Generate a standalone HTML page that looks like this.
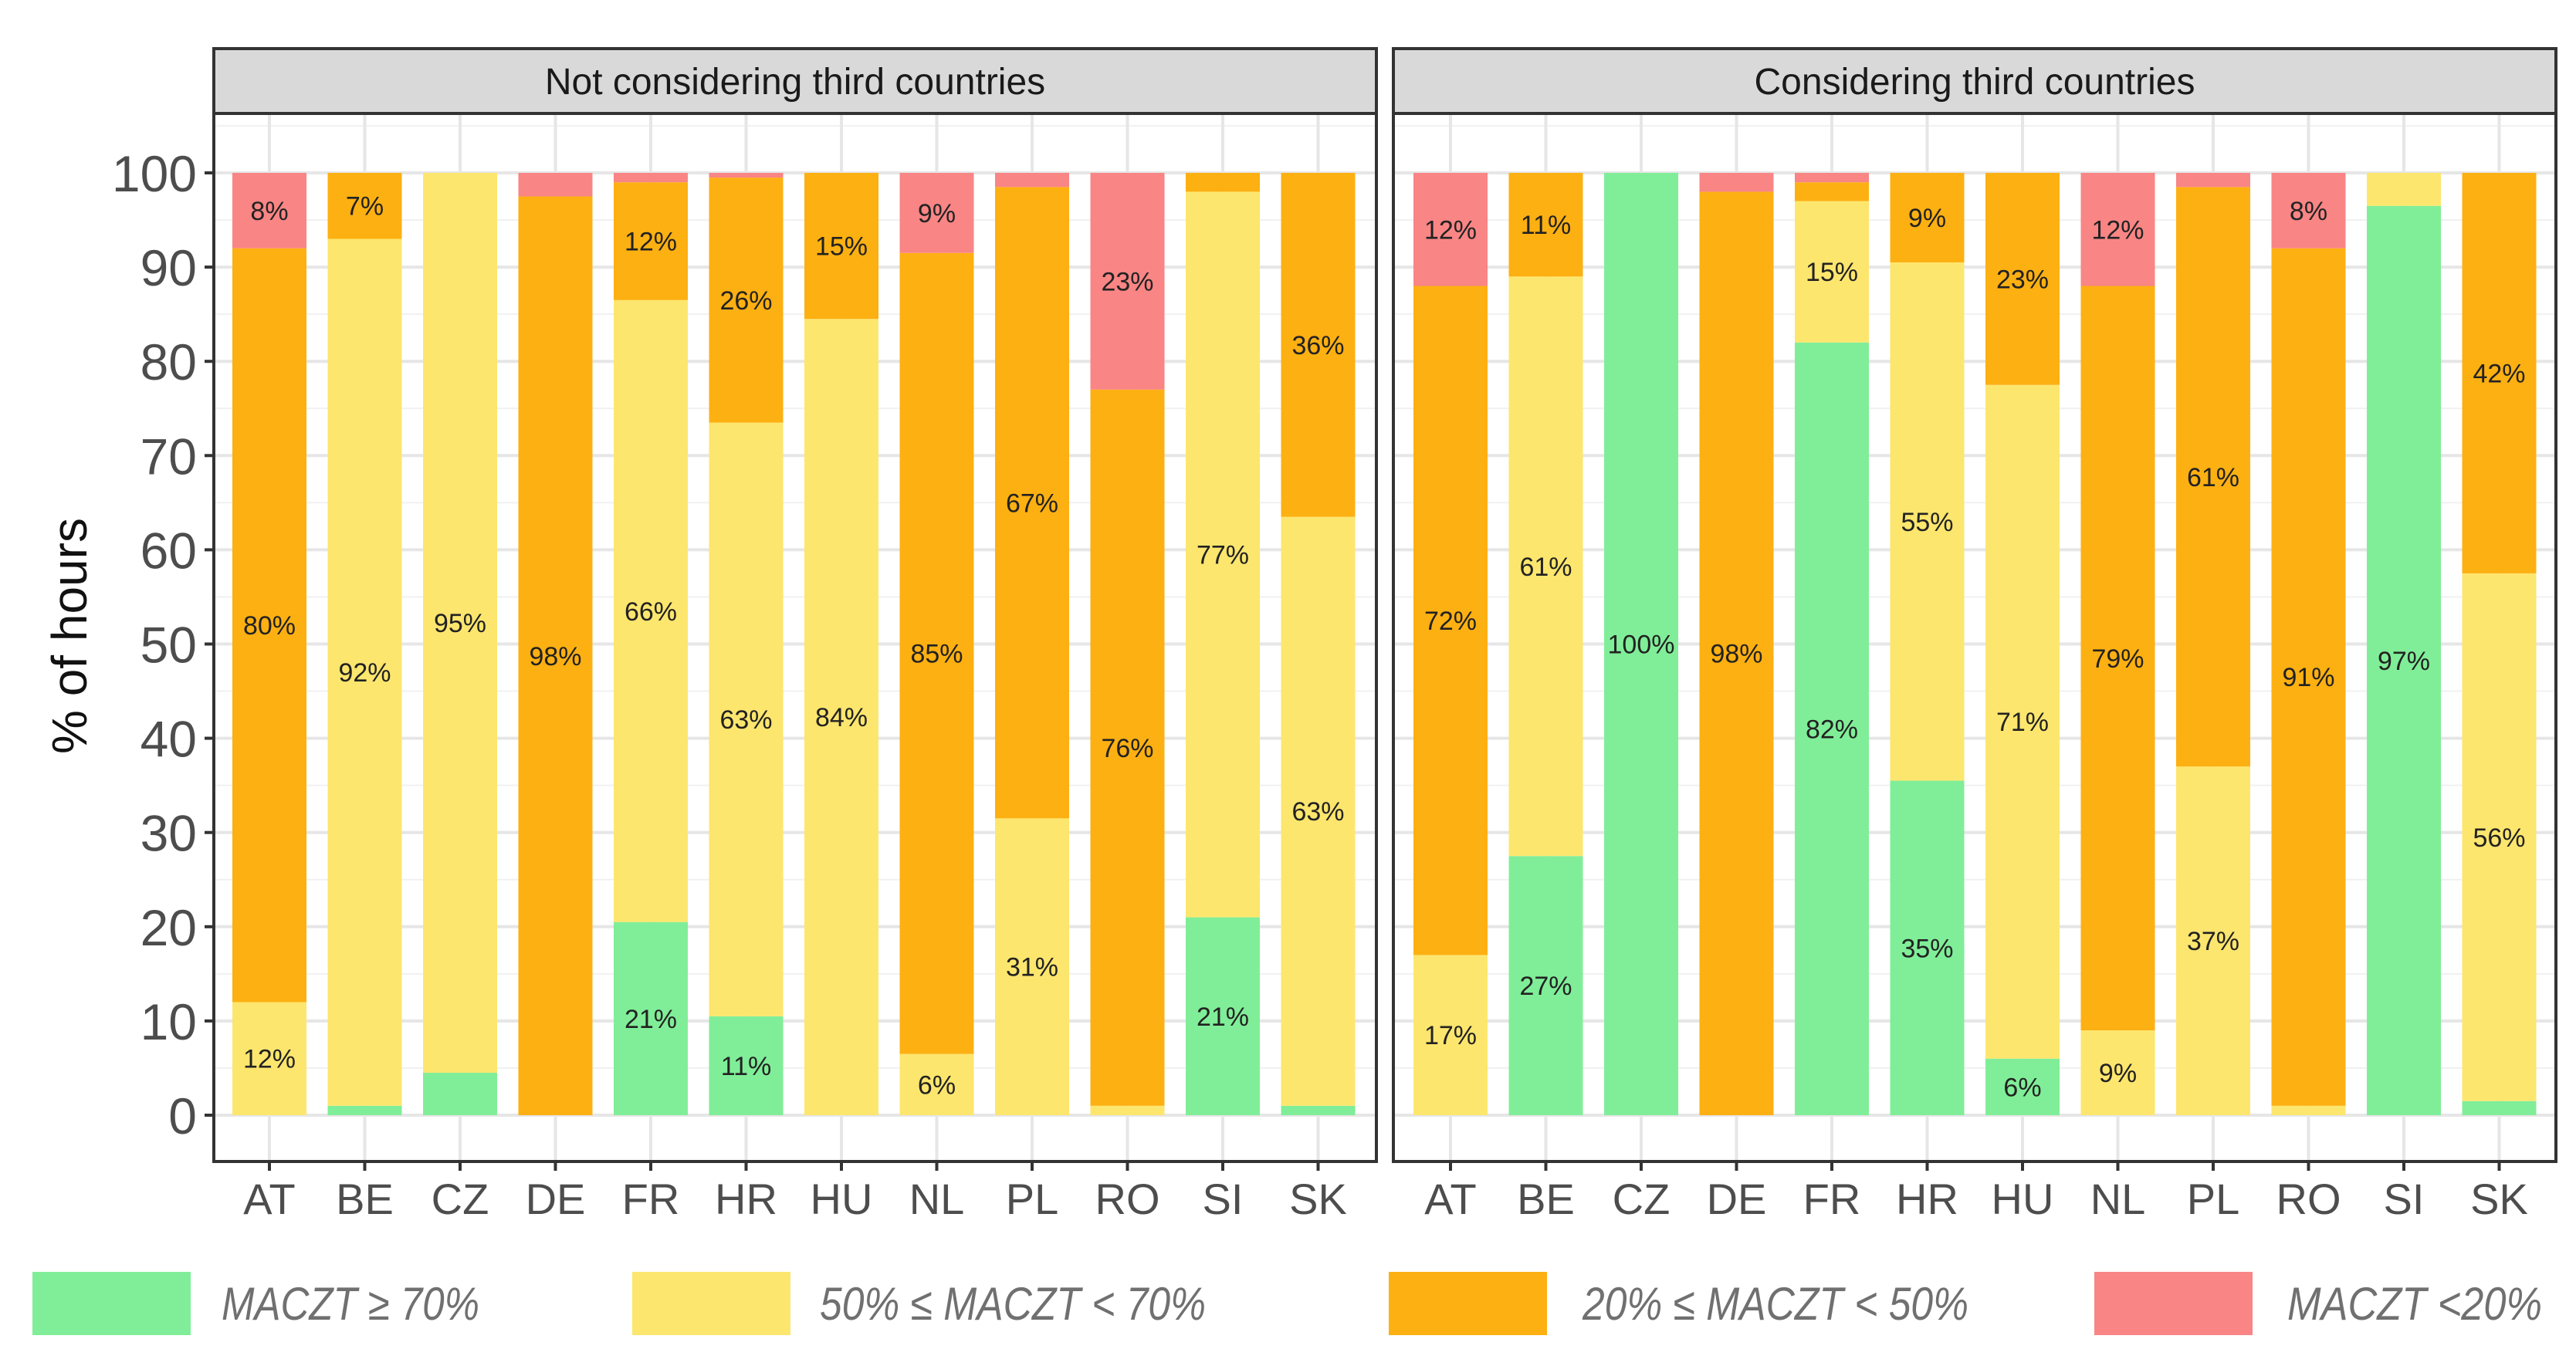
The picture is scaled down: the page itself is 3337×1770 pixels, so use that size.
<!DOCTYPE html>
<html><head><meta charset="utf-8"><style>
html,body{margin:0;padding:0;background:#fff;}
svg{display:block;font-family:"Liberation Sans",sans-serif;}
</style></head><body>
<svg id="chart" width="3337" height="1770" viewBox="0 0 3337 1770" xmlns="http://www.w3.org/2000/svg">
<text transform="translate(112,824) rotate(-90)" text-anchor="middle" font-size="64" fill="#111">% of hours</text>
<g id="panels"></g>
<g id="legend"></g>
</svg>
<script>
const categories = ["AT","BE","CZ","DE","FR","HR","HU","NL","PL","RO","SI","SK"];
const panelTitles = ["Not considering third countries","Considering third countries"];
const seriesNames = ["MACZT \u2265 70%","50% \u2264 MACZT < 70%","20% \u2264 MACZT < 50%","MACZT <20%"];
const seriesColors = ["#80EE98","#FDE66E","#FDB012","#F98585"];
const yTicks = [0,10,20,30,40,50,60,70,80,90,100];
// Left panel values (stack bottom->top: green, yellow, orange, red)
const leftGreen  = [0,1,4.5,0,20.5,10.5,0,0,0,0,21,1];
const leftYellow = [12,92,95.5,0,66,63,84.5,6.5,31.5,1,77,62.5];
const leftOrange = [80,7,0,97.5,12.5,26,15.5,85,67,76,2,36.5];
const leftRed    = [8,0,0,2.5,1,0.5,0,8.5,1.5,23,0,0];
const leftLabelsGreen  = ["","","","","21%","11%","","","","","21%",""];
const leftLabelsYellow = ["12%","92%","95%","","66%","63%","84%","6%","31%","","77%","63%"];
const leftLabelsOrange = ["80%","7%","","98%","12%","26%","15%","85%","67%","76%","","36%"];
const leftLabelsRed    = ["8%","","","","","","","9%","","23%","",""];
// Right panel values
const rightGreen  = [0,27.5,100,0,82,35.5,6,0,0,0,96.5,1.5];
const rightYellow = [17,61.5,0,0,15,55,71.5,9,37,1,3.5,56];
const rightOrange = [71,11,0,98,2,9.5,22.5,79,61.5,91,0,42.5];
const rightRed    = [12,0,0,2,1,0,0,12,1.5,8,0,0];
const rightLabelsGreen  = ["","27%","100%","","82%","35%","6%","","","","97%",""];
const rightLabelsYellow = ["17%","61%","","","15%","55%","71%","9%","37%","","","56%"];
const rightLabelsOrange = ["72%","11%","","98%","","9%","23%","79%","61%","91%","","42%"];
const rightLabelsRed    = ["12%","","","","","","","12%","","8%","",""];

const NS="http://www.w3.org/2000/svg";
function mk(tag,attrs,parent){const e=document.createElementNS(NS,tag);for(const k in attrs)e.setAttribute(k,attrs[k]);parent.appendChild(e);return e;}
const y0=1445, yPer=12.21;
function yScale(v){return y0 - v*yPer;}
const panelsG=document.getElementById('panels');
const panelDefs=[
 {x0:277,x1:1783,firstC:349,series:[leftGreen,leftYellow,leftOrange,leftRed],labels:[leftLabelsGreen,leftLabelsYellow,leftLabelsOrange,leftLabelsRed],title:panelTitles[0],name:'left'},
 {x0:1805,x1:3311,firstC:1879,series:[rightGreen,rightYellow,rightOrange,rightRed],labels:[rightLabelsGreen,rightLabelsYellow,rightLabelsOrange,rightLabelsRed],title:panelTitles[1],name:'right'}
];
const step=123.5, bw=96, stripTop=63, stripBot=147, panelBot=1505;
panelDefs.forEach((p,pi)=>{
  const g=mk('g',{},panelsG);
  
  
  function xScale(i){return p.firstC + i*step;}
  // strip
  const strip=mk('rect',{x:p.x0,y:stripTop,width:p.x1-p.x0,height:stripBot-stripTop,fill:'#d9d9d9',stroke:'#333','stroke-width':4},g);
  
  
  const st=mk('text',{x:(p.x0+p.x1)/2,y:(stripTop+stripBot)/2+17,'text-anchor':'middle','font-size':48,fill:'#1a1a1a'},g);
  st.textContent=p.title;
  
  
  // minor/major grid
  for(let v=-5; v<=105; v+=5){
    const y=yScale(v); if(y<stripBot||y>panelBot) continue;
    const gl=mk('line',{x1:p.x0,x2:p.x1,y1:y,y2:y,stroke:v%10===0?'#e6e6e6':'#f1f1f1','stroke-width':v%10===0?4:2},g);
    
    
  }
  categories.forEach((c,i)=>{
    const vl=mk('line',{x1:xScale(i),x2:xScale(i),y1:stripBot,y2:panelBot,stroke:'#e6e6e6','stroke-width':4},g);
    
    
  });
  // bars
  categories.forEach((c,i)=>{
    let cum=0;
    p.series.forEach((arr,si)=>{
      const v=arr[i];
      if(v>0){
        const r=mk('rect',{x:xScale(i)-bw/2,y:yScale(cum+v),width:bw,height:v*yPer,fill:seriesColors[si]},g);
        
        
      }
      const lab=p.labels[si][i];
      if(lab){
        const t=mk('text',{x:xScale(i),y:yScale(cum+v/2)+12,'text-anchor':'middle','font-size':34,fill:'#222'},g);
        t.textContent=lab;
        
        
      }
      cum+=v;
    });
  });
  // panel border
  const pb=mk('rect',{x:p.x0,y:stripBot,width:p.x1-p.x0,height:panelBot-stripBot,fill:'none',stroke:'#333','stroke-width':4},g);
  
  
  // x ticks + labels
  categories.forEach((c,i)=>{
    mk('line',{x1:xScale(i),x2:xScale(i),y1:panelBot,y2:panelBot+12,stroke:'#333','stroke-width':4},g);
    const t=mk('text',{x:xScale(i),y:1573,'text-anchor':'middle','font-size':56,fill:'#4d4d4d'},g);
    t.textContent=c;
    
    
  });
  if(pi===0){
    yTicks.forEach(v=>{
      const y=yScale(v);
      mk('line',{x1:p.x0-12,x2:p.x0,y1:y,y2:y,stroke:'#333','stroke-width':4},g);
      const t=mk('text',{x:p.x0-22,y:y+24,'text-anchor':'end','font-size':66,fill:'#4d4d4d'},g);
      t.textContent=v;
      
      
    });
  }
});
// legend
const lg=document.getElementById('legend');
const legRects=[42,819,1799,2713];
const legText=[287,1062,2050,2963];
const legLen=[334,500,500,330];
seriesNames.forEach((n,i)=>{
  const r=mk('rect',{x:legRects[i],y:1648,width:205,height:82,fill:seriesColors[i]},lg);
  
  
  const t=mk('text',{x:legText[i],y:1710,'font-size':60,'font-style':'italic',fill:'#707070',textLength:legLen[i],lengthAdjust:'spacingAndGlyphs'},lg);
  t.textContent=n;
  
  
});
</script>
</body></html>
